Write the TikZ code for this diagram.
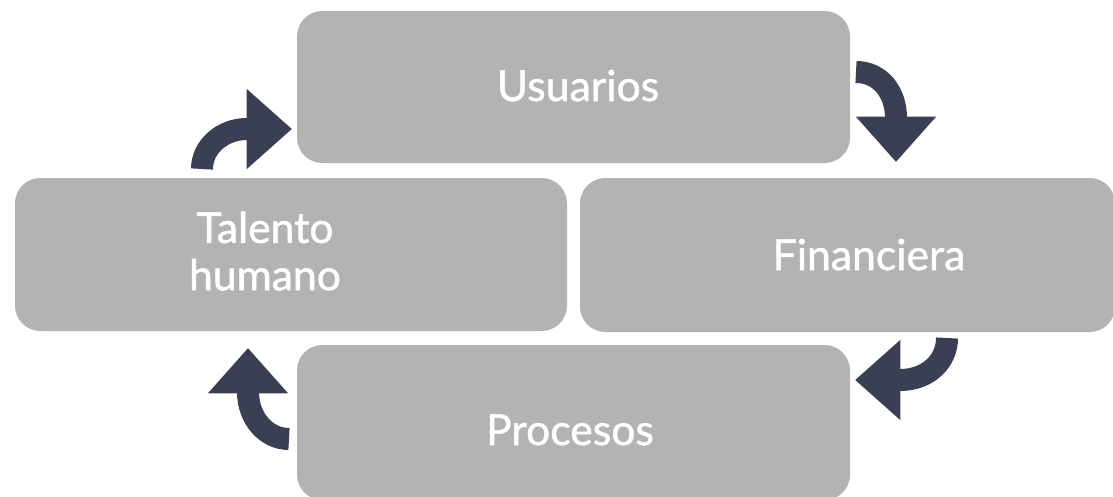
\documentclass[tikz,border=0pt]{standalone}
\usepackage{fontspec}
\setmainfont{Lato}
\newfontfamily\areafont{Lato}[FakeBold=1.2]
\usetikzlibrary{arrows.meta}

\definecolor{boxgray}{HTML}{B3B3B3}
\definecolor{arrownavy}{HTML}{3B3F54}

\begin{document}
\begin{tikzpicture}[x=0.75pt, y=-0.75pt,
        area/.style={fill=boxgray, rounded corners=19pt, inner sep=0pt},
        areatext/.style={text=white, font=\areafont\fontsize{32}{35.5}\selectfont, align=center},
        cyclearrow/.style={draw=arrownavy, line width=16.5pt, -{Triangle[length=34pt, width=58pt]}}]
        \useasboundingbox (0,0) rectangle (1113,496);

        \node[area, minimum width=414.75pt, minimum height=114pt] (usuarios) at (573.5,87) {};
        \node[area, minimum width=414pt, minimum height=114.75pt] (talento) at (291,254.5) {};
        \node[area, minimum width=401.25pt, minimum height=115.5pt] (financiera) at (847.5,255) {};
        \node[area, minimum width=414.75pt, minimum height=116.25pt] (procesos) at (573.5,422.5) {};

        \node[areatext, anchor=base] (usuariostxt) at (578,101) {Usuarios};
        \node[areatext, anchor=base] (financieratxt) at (869,270) {Financiera};
        \node[areatext, anchor=base] (procesostxt) at (570,445) {Procesos};
        \node[areatext] (talentotxt) at (265,251) {Talento\\humano};

        % arrow ends
        \coordinate (th1) at (202,169);
        \coordinate (th2) at (247,129);
        \coordinate (th3) at (292,129);
        \coordinate (us1) at (856,72);
        \coordinate (us2) at (896,118);
        \coordinate (us3) at (896,162);
        \coordinate (fi1) at (947,338);
        \coordinate (fi2) at (900,380);
        \coordinate (fi3) at (855,380);
        \coordinate (pr1) at (289,439);
        \coordinate (pr2) at (248,392);
        \coordinate (pr3) at (248,348);

        \draw[cyclearrow] (th1) .. controls +(0,-22) and +(-25,0) .. (th2) -- (th3);
        \draw[cyclearrow] (us1) .. controls +(24,0) and +(0,-26) .. (us2) -- (us3);
        \draw[cyclearrow] (fi1) .. controls +(0,24) and +(27,0) .. (fi2) -- (fi3);
        \draw[cyclearrow] (pr1) .. controls +(-23,0) and +(0,26) .. (pr2) -- (pr3);
\end{tikzpicture}
\end{document}
